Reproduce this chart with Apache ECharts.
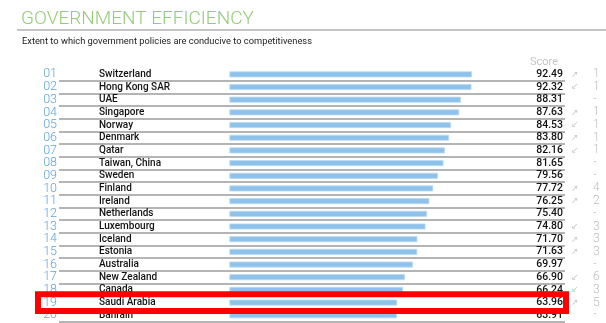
<!DOCTYPE html>
<html><head><meta charset="utf-8">
<script src="https://cdn.jsdelivr.net/npm/echarts@6/dist/echarts.min.js"></script>
<style>html,body{margin:0;padding:0;background:#fff}#c{width:606px;height:323px}</style>
</head><body><div id="c"></div>
<script>
const ranks = ['01','02','03','04','05','06','07','08','09','10','11','12','13','14','15','16','17','18','19','20'];
const countries = ['Switzerland','Hong Kong SAR','UAE','Singapore','Norway','Denmark','Qatar','Taiwan, China','Sweden','Finland','Ireland','Netherlands','Luxembourg','Iceland','Estonia','Australia','New Zealand','Canada','Saudi Arabia','Bahrain'];
const scores = [92.49,92.32,88.31,87.63,84.53,83.80,82.16,81.65,79.56,77.72,76.25,75.40,74.80,71.70,71.63,69.97,66.90,66.24,63.96,63.91];
const directions = ['up','down','','up','down','up','down','','','up','up','','down','up','up','','down','down','up',''];
const changes = ['1','1','-','1','1','1','1','-','-','4','2','-','3','3','3','-','6','3','5','-'];
const highlighted = 'Saudi Arabia';

const arrowChar = {up:'↗', down:'↙', '':' '};
const changeLabels = directions.map((d,i)=>'{a|'+arrowChar[d]+'}{n|'+changes[i]+'}');
const font = 'Roboto, "DejaVu Sans", sans-serif';

const chart = echarts.init(document.getElementById('c'));
const hiIdx = countries.indexOf(highlighted);
const gridTop = 68, rowH = 12.68;
const hideAxis = {axisLine:{show:false}, axisTick:{show:false}};
chart.setOption({
  animation:false,
  title:[
    {text:'GOVERNMENT EFFICIENCY', left:16, top:5, textStyle:{fontFamily:font, fontWeight:300, fontSize:19, color:'#95cb78'}},
    {text:'Extent to which government policies are conducive to competitiveness', left:17, top:32, textStyle:{fontFamily:font, fontWeight:400, fontSize:9.3, color:'#222'}},
    {text:'Score', right:43, top:52, textStyle:{fontFamily:font, fontWeight:400, fontSize:11, color:'#c4c4c4'}}
  ],
  graphic:[
    {type:'line', shape:{x1:17,y1:30,x2:606,y2:30}, style:{stroke:'#b0b0b0', lineWidth:1.5}},
    {type:'rect', z:100, shape:{x:38, y:gridTop+hiIdx*rowH-2, width:528, height:rowH+4}, style:{fill:'none', stroke:'#ff0000', lineWidth:6}}
  ],
  grid:{left:59, right:41, top:gridTop, height:rowH*ranks.length},
  xAxis:{type:'value', min:-65, max:128, show:false},
  yAxis:[
    Object.assign({type:'category', data:ranks, inverse:true, position:'left',
     axisLabel:{interval:0, margin:2, fontFamily:font, fontWeight:300, fontSize:12.5, color:'#5ea3dc'},
     splitLine:{show:true, interval:(i)=>i>0, lineStyle:{color:'#b4b4b4', width:2}}}, hideAxis),
    Object.assign({type:'category', data:countries, inverse:true, position:'left',
     axisLabel:{interval:0, margin:-40, align:'left', fontFamily:font, fontWeight:500, fontSize:10, color:'#111'}}, hideAxis),
    Object.assign({type:'category', data:scores.map(v=>v.toFixed(2)), inverse:true, position:'right',
     axisLabel:{interval:0, margin:-2, align:'right', fontFamily:font, fontWeight:500, fontSize:10.5, color:'#111'}}, hideAxis),
    Object.assign({type:'category', data:changeLabels, inverse:true, position:'right',
     axisLabel:{interval:0, margin:6, align:'left', rich:{
       a:{fontFamily:'"DejaVu Sans", sans-serif', fontSize:9, color:'#c8c8c8', width:22},
       n:{fontFamily:font, fontWeight:300, fontSize:12, color:'#bdbdbd'}}}}, hideAxis)
  ],
  series:[{type:'bar', yAxisIndex:0, data:scores, barWidth:6,
    itemStyle:{color:'#8fc2ea', borderColor:'#b9dbf4', borderWidth:0.8}}]
});
</script></body></html>
